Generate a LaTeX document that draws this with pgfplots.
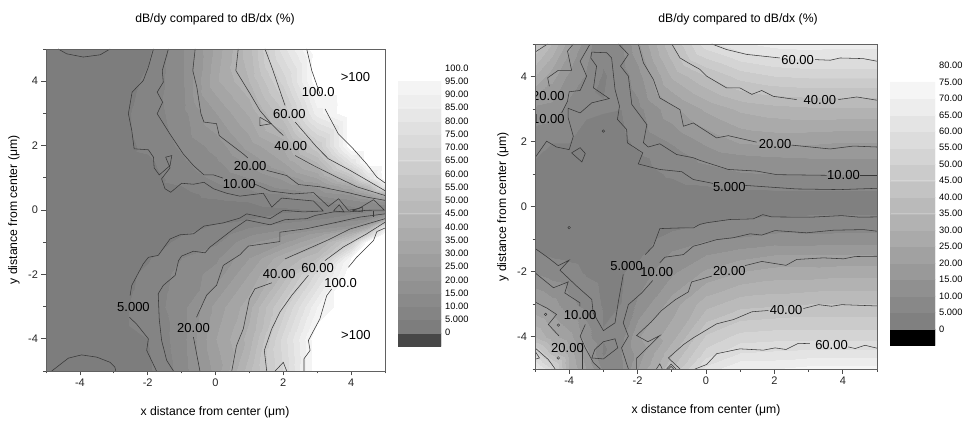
\documentclass[border=0pt]{standalone}
\usepackage{pgfplots}
\pgfplotsset{compat=1.18}
\usepackage{fontspec}
\setmainfont{Liberation Sans}
\pgfplotsset{
 colormap={lb}{gray(0)=(.49);gray(99)=(.49);gray(100)=(.516);gray(199)=(.516);gray(200)=(.542);gray(299)=(.542);gray(300)=(.568);gray(399)=(.568);gray(400)=(.594);gray(499)=(.594);gray(500)=(.62);gray(599)=(.62);gray(600)=(.646);gray(699)=(.646);gray(700)=(.672);gray(799)=(.672);gray(800)=(.698);gray(899)=(.698);gray(900)=(.724);gray(999)=(.724);gray(1000)=(.75);gray(1099)=(.75);gray(1100)=(.776);gray(1199)=(.776);gray(1200)=(.802);gray(1299)=(.802);gray(1300)=(.828);gray(1399)=(.828);gray(1400)=(.854);gray(1499)=(.854);gray(1500)=(.88);gray(1599)=(.88);gray(1600)=(.906);gray(1699)=(.906);gray(1700)=(.932);gray(1799)=(.932);gray(1800)=(.958);gray(1899)=(.958);gray(1900)=(1);gray(2000)=(1)},
 colormap={rb}{gray(0)=(.5);gray(99)=(.5);gray(100)=(.533);gray(199)=(.533);gray(200)=(.566);gray(299)=(.566);gray(300)=(.599);gray(399)=(.599);gray(400)=(.632);gray(499)=(.632);gray(500)=(.665);gray(599)=(.665);gray(600)=(.698);gray(699)=(.698);gray(700)=(.731);gray(799)=(.731);gray(800)=(.764);gray(899)=(.764);gray(900)=(.797);gray(999)=(.797);gray(1000)=(.83);gray(1099)=(.83);gray(1100)=(.863);gray(1199)=(.863);gray(1200)=(.896);gray(1299)=(.896);gray(1300)=(.929);gray(1399)=(.929);gray(1400)=(.962);gray(1499)=(.962);gray(1500)=(1);gray(1600)=(1)},
 panel/.style={scale only axis,anchor=south west,xmin=-5,xmax=5,ymin=-5,ymax=5,enlargelimits=false,
  axis on top,axis line style={black!62,line width=.9pt},
  xtick={-4,-2,0,2,4},xticklabels={-4,-2,0,2,4},ytick={-4,-2,0,2,4},yticklabels={-4,-2,0,2,4},
  minor xtick={-5,-3,-1,1,3,5},minor ytick={-5,-3,-1,1,3,5},
  xtick pos=bottom,ytick pos=left,tick align=outside,
  major tick length=4.5pt,minor tick length=2.5pt,
  tick style={black!70,line width=.7pt},
  tick label style={font=\fontsize{11}{11}\selectfont,text=black!85},
  cycle list={{black}}},
 cl/.style={no markers,line width=.55pt,black!78,forget plot},
 cm/.style={only marks,mark=o,mark size=1.3pt,mark options={line width=.45pt,black!78,fill=none},forget plot},
 bar/.style={scale only axis,anchor=south west,xmin=0,xmax=1,enlargelimits=false,
  hide x axis,axis y line*=right,y axis line style={draw=none},major tick length=0pt,
  yticklabel style={anchor=west,font=\fontsize{9.3}{9.3}\selectfont,inner xsep=0pt,xshift=4pt}},
 bf/.style={line width=.2pt,forget plot}
}
\newcommand{\clab}[3]{\node[font=\fontsize{13}{13}\selectfont,text=black] at (axis cs:#1,#2) {#3};}
\begin{document}
\begin{tikzpicture}[x=1pt,y=1pt]
\path[use as bounding box] (0,0) rectangle (965,420);
% LEFT PANEL
\begin{axis}[panel,at={(46pt,49pt)},width=339pt,height=322pt,colormap name=lb,point meta min=0,point meta max=100]
\addplot[surf,shader=interp,mesh/cols=11,point meta=explicit] coordinates {
(-5,5)[2](-3,5)[2](-2,5)[4](-1,5)[14](0,5)[32](1,5)[48](2,5)[78](3,5)[105](4,5)[115](4.5,5)[115](5,5)[115]
(-5,4)[2](-3,4)[2](-2,4)[6](-1,4)[14](0,4)[34](1,4)[45](2,4)[67](3,4)[108](4,4)[115](4.5,4)[115](5,4)[115]
(-5,3)[2](-3,3)[3](-2,3)[7](-1,3)[13](0,3)[25](1,3)[36](2,3)[54](3,3)[88](4,3)[115](4.5,3)[115](5,3)[115]
(-5,2)[2](-3,2)[3](-2,2)[6](-1,2)[11](0,2)[17](1,2)[27](2,2)[36](3,2)[60](4,2)[100](4.5,2)[115](5,2)[115]
(-5,1.5)[2](-3,1.5)[3](-2,1.5)[4](-1,1.5)[9](0,1.5)[14](1,1.5)[21](2,1.5)[30](3,1.5)[45](4,1.5)[80](4.5,1.5)[105](5,1.5)[115]
(-5,1)[2](-3,1)[2.5](-2,1)[3](-1,1)[7](0,1)[11](1,1)[15](2,1)[21](3,1)[30](4,1)[53](4.5,1)[78](5,1)[115]
(-5,.75)[2](-3,.75)[2.5](-2,.75)[3](-1,.75)[5](0,.75)[9](1,.75)[11](2,.75)[17](3,.75)[21](4,.75)[35](4.5,.75)[50](5,.75)[85]
(-5,.5)[2](-3,.5)[2.5](-2,.5)[3](-1,.5)[3.5](0,.5)[6.5](1,.5)[8](2,.5)[10](3,.5)[16](4,.5)[21](4.5,.5)[30](5,.5)[45]
(-5,.25)[2](-3,.25)[2.5](-2,.25)[3](-1,.25)[3](0,.25)[4](1,.25)[5](2,.25)[7](3,.25)[9](4,.25)[12](4.5,.25)[14](5,.25)[18]
(-5,0)[2](-3,0)[2.5](-2,0)[3](-1,0)[3](0,0)[3](1,0)[3.5](2,0)[4](3,0)[5](4,0)[8](4.5,0)[9](5,0)[9]
(-5,-.25)[2](-3,-.25)[2.5](-2,-.25)[3](-1,-.25)[3](0,-.25)[3.5](1,-.25)[4.5](2,-.25)[7](3,-.25)[9](4,-.25)[12](4.5,-.25)[14](5,-.25)[30]
(-5,-.5)[2](-3,-.5)[2.5](-2,-.5)[3](-1,-.5)[3](0,-.5)[5.5](1,-.5)[9](2,-.5)[12](3,-.5)[15](4,-.5)[21](4.5,-.5)[33](5,-.5)[80]
(-5,-.75)[2](-3,-.75)[2.5](-2,-.75)[3](-1,-.75)[4.8](0,-.75)[7](1,-.75)[14](2,-.75)[19](3,-.75)[27](4,-.75)[42](4.5,-.75)[65](5,-.75)[115]
(-5,-1)[2](-3,-1)[2.5](-2,-1)[3](-1,-1)[6](0,-1)[9](1,-1)[19](2,-1)[24](3,-1)[36](4,-1)[62](4.5,-1)[110](5,-1)[115]
(-5,-1.5)[2](-3,-1.5)[3](-2,-1.5)[4.5](-1,-1.5)[10](0,-1.5)[14](1,-1.5)[25](2,-1.5)[39](3,-1.5)[50](4,-1.5)[95](4.5,-1.5)[115](5,-1.5)[115]
(-5,-2)[2](-3,-2)[3](-2,-2)[6](-1,-2)[12](0,-2)[17](1,-2)[30](2,-2)[46](3,-2)[72](4,-2)[115](4.5,-2)[115](5,-2)[115]
(-5,-3)[2](-3,-3)[3.5](-2,-3)[7](-1,-3)[13](0,-3)[27](1,-3)[38](2,-3)[62](3,-3)[90](4,-3)[115](4.5,-3)[115](5,-3)[115]
(-5,-4)[2](-3,-4)[3.5](-2,-4)[5](-1,-4)[13](0,-4)[30](1,-4)[42](2,-4)[72](3,-4)[110](4,-4)[115](4.5,-4)[115](5,-4)[115]
(-5,-5)[2](-3,-5)[3](-2,-5)[4](-1,-5)[12](0,-5)[27](1,-5)[48](2,-5)[70](3,-5)[115](4,-5)[115](4.5,-5)[115](5,-5)[115]
};
% level 5
\addplot[cl] coordinates {(-1.83,5)(-1.98,4.44)(-2.13,4.02)(-2.46,3.66)(-2.57,2.99)(-2.47,2.47)(-2.40,1.90)(-1.98,1.87)(-1.83,1.64)(-1.81,1.31)(-1.66,1.09)(-1.34,1.38)(-1.29,1.69)(-1.47,1.64)(-1.34,1.31)(-1.59,.97)(-1.49,.66)(-1.32,.55)(-1,.83)(-.65,.80)(-.34,.86)(-.06,.66)(.33,.52)(.72,.43)(1.41,.52)(1.66,.09)(1.95,.37)(2.89,.28)(3.18,-.03)(2.59,-.06)(2,-.01)(1.61,-.27)(.92,-.12)(.72,-.25)(.23,-.40)(-.34,-.50)(-.65,-.74)(-1.05,-.77)(-1.34,-.90)(-1.69,-1.41)(-1.98,-1.47)(-2.13,-1.67)(-2.47,-2.34)(-2.52,-2.66)};
\addplot[cl] coordinates {(-2.54,-3.33)(-2.33,-3.54)(-1.98,-4)(-2.03,-4.36)(-1.74,-5)};
\addplot[cl] coordinates {(-4.83,-5)(-4.34,-4.6)(-3.95,-4.5)(-3.5,-4.57)(-3.11,-4.73)(-2.97,-4.88)(-2.94,-5)};
\addplot[cl] coordinates {(-4.64,5)(-4.39,4.85)(-3.9,4.75)(-3.4,4.82)(-3.11,5)};
% level 10
\addplot[cl] coordinates {(-1.39,5)(-1.57,4.33)(-1.54,3.97)(-1.72,3.66)(-1.56,3.35)(-1.72,2.99)(-1.35,2.37)(-.95,1.74)(-.65,1.38)(-.34,1.09)(-.06,1.09)(.22,.99)};
\addplot[cl] coordinates {(1.17,.8)(1.61,.59)(2.3,.5)(2.89,.54)(3.33,.11)(3.63,.35)(3.92,-.01)(4.22,.04)(4.66,.32)(4.98,0)(4.46,-.01)(3.92,-.06)(3.48,-.06)(2.94,-.17)(2.69,-.27)(2.05,-.3)(1.61,-.46)(.92,-.31)(.53,-.59)(-.16,-1.15)(-.31,-1.33)(-.65,-1.28)(-1,-1.43)(-1.09,-1.57)(-1.19,-2.03)(-1.54,-2.34)(-1.69,-2.6)(-1.66,-3.38)(-1.59,-4.05)(-1.44,-4.67)(-1.24,-5)};
\addplot[cl] coordinates {(3.48,-.03)(3.65,.16)(3.79,-.06)(3.48,-.03)};
\addplot[cl] coordinates {(4.04,-.01)(4.33,.09)(4.33,-.06)(4.04,-.01)};
\addplot[cl,line width=1pt] coordinates {(4.65,-.02)(4.65,-.22)};
% level 20
\addplot[cl] coordinates {(-.6,5)(-.67,4.33)(-.55,3.81)(-.43,2.99)(-.34,2.73)(.03,2.68)(.11,2.31)(.82,1.74)(.95,1.62)};
\addplot[cl] coordinates {(1.51,1.23)(2.1,1.07)(2.45,.79)(3.09,.72)(3.87,.55)(4.46,.4)(5,.3)};
\addplot[cl] coordinates {(-.46,-5)(-.65,-3.95)};
\addplot[cl] coordinates {(-.56,-3.33)(-.26,-2.64)(.03,-2.34)(.23,-1.72)(.72,-1.39)(.97,-1.12)(1.9,-.98)(1.9,-.69)(2.69,-.58)(3.58,-.38)(4.26,-.22)(5,-.12)};
% level 40
\addplot[cl] coordinates {(.67,5)(.6,4.33)(1.02,3.61)(1.31,3.09)(1.64,2.68)(2,2.31)};
\addplot[cl] coordinates {(1.31,2.88)(1.31,2.62)(1.64,2.68)(1.31,2.88)};
\addplot[cl] coordinates {(2.35,1.69)(2.89,1.38)(3.48,1.07)(4.17,.72)(5,.45)};
\addplot[cl] coordinates {(.48,-5)(.62,-4.21)(.82,-3.69)(1,-2.76)(1.16,-2.45)(1.66,-2.26)};
\addplot[cl] coordinates {(2.05,-1.52)(3.28,-.95)(3.97,-.59)(5,-.27)};
% level 60
\addplot[cl] coordinates {(1.46,5)(1.66,4.44)(2.05,3.25)};
\addplot[cl] coordinates {(2.35,2.73)(2.99,1.95)(3.33,1.59)(3.97,1.23)(5,.6)};
\addplot[cl] coordinates {(1.51,-5)(1.44,-4.36)(1.66,-3.69)(1.9,-3.17)(2.25,-2.65)(2.74,-2.03)};
\addplot[cl] coordinates {(3.23,-1.57)(3.77,-1.15)(4.46,-.74)(5,-.38)};
\addplot[cl] coordinates {(1.76,-5)(2,-4.73)(2.1,-5)};
% level 100
\addplot[cl] coordinates {(2.69,5)(2.84,4.33)(3.08,3.61)};
\addplot[cl] coordinates {(3.23,3.14)(3.62,2.37)(4.02,1.95)(4.46,1.43)(4.76,1.02)(5,.84)};
\addplot[cl] coordinates {(2.61,-5)(2.61,-4.62)(2.79,-4.36)(2.74,-4.05)(3.08,-3.38)(3.28,-2.66)(3.43,-2.45)};
\addplot[cl] coordinates {(3.92,-1.78)(4.17,-1.46)(4.66,-.95)(4.76,-.67)(5,-.56)};
\clab{3.03}{3.66}{100.0}\clab{2.18}{2.99}{60.00}\clab{2.22}{1.98}{40.00}\clab{1.02}{1.38}{20.00}\clab{.7}{.81}{10.00}
\clab{4.13}{4.13}{>100}\clab{-2.42}{-3.02}{5.000}\clab{-.65}{-3.67}{20.00}\clab{1.88}{-2.0}{40.00}\clab{3.01}{-1.8}{60.00}\clab{3.69}{-2.26}{100.0}\clab{4.14}{-3.87}{>100}
\end{axis}
% RIGHT PANEL
\begin{axis}[panel,at={(535pt,51pt)},width=342pt,height=325pt,colormap name=rb,point meta min=0,point meta max=80]
\addplot[surf,shader=interp,mesh/cols=14,point meta=explicit] coordinates {
(-5,5)[45](-4.5,5)[35](-4,5)[22](-3.5,5)[12](-3,5)[6.5](-2.5,5)[9](-2,5)[19](-1,5)[40](0,5)[58](1,5)[64](2,5)[67](3,5)[68](4,5)[67](5,5)[67]
(-5,4)[30](-4.5,4)[22](-4,4)[14](-3.5,4)[9.5](-3,4)[4.5](-2.5,4)[7](-2,4)[13](-1,4)[31](0,4)[40](1,4)[47](2,4)[50](3,4)[51](4,4)[51](5,4)[51]
(-5,3)[14](-4.5,3)[13](-4,3)[8](-3.5,3)[5.5](-3,3)[5.2](-2.5,3)[5](-2,3)[8.5](-1,3)[18.5](0,3)[26](1,3)[31](2,3)[33](3,3)[34](4,3)[34](5,3)[34]
(-5,2)[6](-4.5,2)[5](-4,2)[5](-3.5,2)[3.8](-3,2)[3.5](-2.5,2)[3.8](-2,2)[6](-1,2)[10.5](0,2)[16](1,2)[20.5](2,2)[21.5](3,2)[21](4,2)[20](5,2)[20]
(-5,1.5)[5](-4.5,1.5)[4.5](-4,1.5)[4](-3.5,1.5)[4](-3,1.5)[3.5](-2.5,1.5)[3](-2,1.5)[4](-1,1.5)[7](0,1.5)[11.5](1,1.5)[13.5](2,1.5)[14.5](3,1.5)[15](4,1.5)[15](5,1.5)[15]
(-5,1)[3](-4.5,1)[3](-4,1)[3](-3.5,1)[3](-3,1)[3](-2.5,1)[3](-2,1)[3.5](-1,1)[5.5](0,1)[7.5](1,1)[9.5](2,1)[10](3,1)[10](4,1)[10](5,1)[10]
(-5,.5)[3](-4.5,.5)[3](-4,.5)[3](-3.5,.5)[3](-3,.5)[3](-2.5,.5)[3](-2,.5)[3](-1,.5)[3.5](0,.5)[4](1,.5)[4.8](2,.5)[5](3,.5)[5](4,.5)[5](5,.5)[5]
(-5,0)[2.5](-4.5,0)[2.5](-4,0)[2.5](-3.5,0)[2.5](-3,0)[2.5](-2.5,0)[2.5](-2,0)[2.5](-1,0)[2.5](0,0)[2.5](1,0)[3](2,0)[3](3,0)[3](4,0)[3](5,0)[3]
(-5,-.5)[3](-4.5,-.5)[3](-4,-.5)[3](-3.5,-.5)[3](-3,-.5)[3](-2.5,-.5)[3](-2,-.5)[3](-1,-.5)[3](0,-.5)[5](1,-.5)[6](2,-.5)[6.5](3,-.5)[7](4,-.5)[7](5,-.5)[7]
(-5,-1)[4](-4.5,-1)[3.5](-4,-1)[3](-3.5,-1)[3](-3,-1)[3](-2.5,-1)[3](-2,-1)[3](-1,-1)[7](0,-1)[9.5](1,-1)[10.5](2,-1)[12](3,-1)[11.5](4,-1)[12](5,-1)[12]
(-5,-1.5)[5.5](-4.5,-1.5)[4.5](-4,-1.5)[4](-3.5,-1.5)[3.5](-3,-1.5)[3](-2.5,-1.5)[3](-2,-1.5)[4](-1,-1.5)[11](0,-1.5)[15](1,-1.5)[18](2,-1.5)[20](3,-1.5)[20.5](4,-1.5)[20](5,-1.5)[20]
(-5,-2)[9.5](-4.5,-2)[7.5](-4,-2)[6.5](-3.5,-2)[4.5](-3,-2)[3.5](-2.5,-2)[4.5](-2,-2)[7](-1,-2)[14](0,-2)[21](1,-2)[25](2,-2)[27](3,-2)[27](4,-2)[28](5,-2)[28]
(-5,-3)[20.5](-4.5,-3)[17](-4,-3)[11.5](-3.5,-3)[8](-3,-3)[4.5](-2.5,-3)[5](-2,-3)[11](-1,-3)[22.5](0,-3)[33](1,-3)[38](2,-3)[39](3,-3)[40](4,-3)[40](5,-3)[40]
(-5,-4)[35](-4.5,-4)[27](-4,-4)[22](-3.5,-4)[12](-3,-4)[5.2](-2.5,-4)[8](-2,-4)[19.5](-1,-4)[28](0,-4)[46](1,-4)[52](2,-4)[53](3,-4)[53](4,-4)[53](5,-4)[53]
(-5,-4.5)[52](-4.5,-4.5)[38](-4,-4.5)[28](-3.5,-4.5)[17](-3,-4.5)[4.2](-2.5,-4.5)[10](-2,-4.5)[17](-1,-4.5)[34](0,-4.5)[52](1,-4.5)[60](2,-4.5)[61](3,-4.5)[62](4,-4.5)[62](5,-4.5)[62]
(-5,-5)[68](-4.5,-5)[55](-4,-5)[30](-3.5,-5)[20](-3,-5)[9](-2.5,-5)[9](-2,-5)[20](-1,-5)[40](0,-5)[62](1,-5)[70](2,-5)[70](3,-5)[72](4,-5)[72](5,-5)[72]
};
% 60
\addplot[cl] coordinates {(.17,5)(.6,4.83)(1.19,4.68)(2.16,4.57)};
\addplot[cl] coordinates {(3.19,4.52)(3.63,4.5)(3.92,4.57)(4.6,4.55)(5,4.47)};
\addplot[cl] coordinates {(-.32,-5)(.02,-4.86)(.31,-4.53)(.99,-4.38)(1.68,-4.42)(2.02,-4.35)(2.34,-4.4)(2.7,-4.21)(3.04,-4.22)};
\addplot[cl] coordinates {(4.16,-4.32)(4.36,-4.37)(4.65,-4.27)(5,-4.36)};
% 40
\addplot[cl] coordinates {(-1,5)(-.76,4.57)(-.52,4.42)(-.18,4.22)(.02,4.01)(.6,3.65)(.99,3.65)(1.34,3.45)(1.63,3.57)(1.97,3.39)(2.65,3.29)};
\addplot[cl] coordinates {(3.87,3.29)(4.41,3.37)(5,3.27)};
\addplot[cl] coordinates {(-.76,-5)(-1.1,-4.66)(-.66,-4.25)(-.37,-4.04)(.31,-3.61)(.8,-3.48)(1.34,-3.24)(1.82,-3.2)};
\addplot[cl] coordinates {(2.85,-3.14)(3.29,-3.02)(3.67,-3.07)(3.97,-3.02)(5,-3.06)};
\addplot[cl] coordinates {(-1.45,-5)(-1.35,-4.84)(-1.28,-5)};
\addplot[cl] coordinates {(-1.15,-5)(-1.02,-4.85)(-.88,-5)};
\addplot[cl] coordinates {(-1.1,-5)(-1.02,-4.92)(-.94,-5)};
% 20
\addplot[cl] coordinates {(-1.98,5)(-1.83,4.42)(-1.54,3.91)(-1.35,3.34)(-.76,2.98)(-.66,2.47)(-.37,2.57)(.31,2.11)(.65,2.18)(1.48,1.98)};
\addplot[cl] coordinates {(2.5,1.89)(3.63,1.77)(4.31,1.86)(5,1.83)};
\addplot[cl] coordinates {(-2.03,-5)(-2.03,-4.67)(-1.35,-3.97)(-1.7,-4.16)(-2.03,-3.97)(-1.6,-3.55)(-1.3,-3.2)(-.9,-2.87)(-.52,-2.63)(-.42,-2.32)(-.18,-2.25)(.17,-2.14)};
\addplot[cl] coordinates {(1.14,-1.82)(1.63,-1.69)(2.34,-1.81)(2.65,-1.63)(3.43,-1.58)(4.02,-1.61)(4.36,-1.54)(5,-1.53)};
\addplot[cl] coordinates {(-5,-2.94)(-4.66,-3.12)(-4.37,-3.32)(-4.61,-3.63)(-4.3,-3.98)};
\addplot[cl] coordinates {(-3.63,-4.2)(-3.63,-5)};
\addplot[cl] coordinates {(-5,-4.35)(-4.61,-4.71)(-4.41,-5)};
\addplot[cl] coordinates {(-5,-4.45)(-4.87,-4.66)(-5,-4.7)};
\addplot[cl] coordinates {(-3.88,5)(-4.05,4.78)(-3.93,4.19)(-4.32,4.19)(-4.63,3.96)(-4.58,3.7)};
\addplot[cl] coordinates {(-5,4.75)(-4.63,5)};
% 10
\addplot[cl] coordinates {(-2.56,5)(-2.27,4.68)(-2.5,4.32)(-2.27,4.01)(-2.17,3.14)(-1.73,2.52)(-1.83,1.96)(-1.69,1.83)(-1.35,1.93)(-.86,1.6)(-.37,1.5)(-.18,1.42)(.65,1.14)(1.48,1.09)(2.07,.98)(3.53,.96)};
\addplot[cl] coordinates {(4.5,.95)(5,.95)};
\addplot[cl] coordinates {(-3.39,5)(-3.68,4.47)(-3.49,4.01)(-3.68,3.57)(-4,3.53)(-4.05,3.24)(-4.22,2.88)};
\addplot[cl] coordinates {(-5,-2.04)(-4.46,-2.5)(-4.03,-2.32)(-4.13,-2.66)(-3.69,-2.96)(-3.69,-3.07)};
\addplot[cl] coordinates {(-3.53,-3.63)(-3.68,-3.99)(-3.53,-4.35)(-3.29,-4.81)(-3.09,-5)};
\addplot[cl] coordinates {(-2.27,-5)(-2.47,-4.35)(-2.27,-3.99)(-2.42,-3.58)(-2.27,-3.02)(-1.88,-2.66)(-1.56,-2.28)};
\addplot[cl] coordinates {(-1.35,-1.73)(-1.2,-1.56)(-.66,-1.48)(-.37,-1.22)(-.18,-1.17)(.31,-1.02)(.8,-.96)(1.29,-.84)(1.63,-.88)(2.02,-.74)(2.94,-.81)(3.72,-.73)(4.6,-.71)(5,-.76)};
% 5
\addplot[cl] coordinates {(-5,1.5)(-4.66,2.01)(-4.37,1.83)(-4,1.75)(-3.88,2.16)(-4.03,2.73)(-4.03,3.02)(-3.68,2.88)(-3.34,3.19)(-2.83,3.32)(-3.29,3.65)(-3.2,4.32)(-3.37,4.57)(-3.34,4.75)(-2.9,4.73)(-2.76,4.57)(-2.66,3.6)(-2.53,3.09)(-2.59,2.68)(-2.32,2.37)(-2.3,1.96)(-1.85,1.65)(-1.98,1.31)(-1.35,1.14)(-.71,1.07)(-.37,.83)(.21,.71)};
\addplot[cl] coordinates {(1.14,.65)(2.65,.54)(3.92,.52)(5,.56)};
\addplot[cl] coordinates {(-5,-1.29)(-4.61,-1.58)(-4.32,-1.82)(-4,-1.65)(-4.27,-1.96)(-3.78,-2.45)(-3.34,-2.86)(-3.3,-3.27)(-3,-3.82)(-2.66,-3.58)(-2.56,-2.91)(-2.42,-2.09)};
\addplot[cl] coordinates {(-1.78,-1.48)(-1.54,-1.22)(-1.35,-.68)(-.76,-.66)(-.37,-.66)(-.18,-.55)(.02,-.5)(.7,-.4)(1.38,-.38)(1.66,-.25)(1.92,-.32)(3.04,-.33)(3.97,-.28)(4.5,-.33)(5,-.32)};
\addplot[cl] coordinates {(-3.34,-4.66)(-3.25,-4.4)(-3,-4.16)(-2.66,-4.07)(-2.58,-4.35)(-3,-4.69)(-3.34,-4.66)};
\addplot[cl] coordinates {(-3.93,1.65)(-3.68,1.81)(-3.53,1.63)(-3.63,1.37)(-3.93,1.65)};
\addplot[cm] coordinates {(-3,2.32)(-4,-.65)(-4.69,-3.32)(-4.32,-3.65)(-4.32,-4.66)};
\begin{scope}
\clip (axis cs:-5,-5) rectangle (axis cs:5,5);
\clab{-4.61}{3.41}{20.00}\clab{-4.61}{2.7}{10.00}
\end{scope}
\clab{2.68}{4.52}{60.00}\clab{3.33}{3.29}{40.00}\clab{2.02}{1.91}{20.00}\clab{4.02}{.96}{10.00}\clab{.68}{.6}{5.000}
\clab{-3.68}{-3.34}{10.00}\clab{-4.05}{-4.35}{20.00}\clab{-2.32}{-1.82}{5.000}\clab{-1.44}{-2.01}{10.00}\clab{.68}{-2}{20.00}\clab{2.34}{-3.17}{40.00}\clab{3.67}{-4.25}{60.00}
\end{axis}
% LEFT COLOUR BAR
\begin{axis}[bar,at={(398pt,74pt)},width=43pt,height=278pt,ymin=-5,ymax=100,
 ytick={0,5,...,100},yticklabels={0,5.000,10.00,15.00,20.00,25.00,30.00,35.00,40.00,45.00,50.00,55.00,60.00,65.00,70.00,75.00,80.00,85.00,90.00,95.00,100.0}]
\addplot[bf,color=black!72,fill] coordinates {(0,-5)(1,-5)(1,0)(0,0)(0,-5)};
\addplot[bf,color=black!51,fill] coordinates {(0,0)(1,0)(1,5)(0,5)(0,0)};
\addplot[bf,color=black!48.4,fill] coordinates {(0,5)(1,5)(1,10)(0,10)(0,5)};
\addplot[bf,color=black!45.8,fill] coordinates {(0,10)(1,10)(1,15)(0,15)(0,10)};
\addplot[bf,color=black!43.2,fill] coordinates {(0,15)(1,15)(1,20)(0,20)(0,15)};
\addplot[bf,color=black!40.6,fill] coordinates {(0,20)(1,20)(1,25)(0,25)(0,20)};
\addplot[bf,color=black!38,fill] coordinates {(0,25)(1,25)(1,30)(0,30)(0,25)};
\addplot[bf,color=black!35.4,fill] coordinates {(0,30)(1,30)(1,35)(0,35)(0,30)};
\addplot[bf,color=black!32.8,fill] coordinates {(0,35)(1,35)(1,40)(0,40)(0,35)};
\addplot[bf,color=black!30.2,fill] coordinates {(0,40)(1,40)(1,45)(0,45)(0,40)};
\addplot[bf,color=black!27.6,fill] coordinates {(0,45)(1,45)(1,50)(0,50)(0,45)};
\addplot[bf,color=black!25,fill] coordinates {(0,50)(1,50)(1,55)(0,55)(0,50)};
\addplot[bf,color=black!22.4,fill] coordinates {(0,55)(1,55)(1,60)(0,60)(0,55)};
\addplot[bf,color=black!19.8,fill] coordinates {(0,60)(1,60)(1,65)(0,65)(0,60)};
\addplot[bf,color=black!17.2,fill] coordinates {(0,65)(1,65)(1,70)(0,70)(0,65)};
\addplot[bf,color=black!14.6,fill] coordinates {(0,70)(1,70)(1,75)(0,75)(0,70)};
\addplot[bf,color=black!12,fill] coordinates {(0,75)(1,75)(1,80)(0,80)(0,75)};
\addplot[bf,color=black!9.4,fill] coordinates {(0,80)(1,80)(1,85)(0,85)(0,80)};
\addplot[bf,color=black!6.8,fill] coordinates {(0,85)(1,85)(1,90)(0,90)(0,85)};
\addplot[bf,color=black!4.2,fill] coordinates {(0,90)(1,90)(1,95)(0,95)(0,90)};
\end{axis}
% RIGHT COLOUR BAR
\begin{axis}[bar,at={(890pt,74.6pt)},width=45pt,height=280pt,ymin=-5,ymax=80,
 ytick={0,5,...,80},yticklabels={0,5.000,10.00,15.00,20.00,25.00,30.00,35.00,40.00,45.00,50.00,55.00,60.00,65.00,70.00,75.00,80.00}]
\addplot[bf,color=black,fill] coordinates {(0,-5)(1,-5)(1,0)(0,0)(0,-5)};
\addplot[bf,color=black!50,fill] coordinates {(0,0)(1,0)(1,5)(0,5)(0,0)};
\addplot[bf,color=black!46.7,fill] coordinates {(0,5)(1,5)(1,10)(0,10)(0,5)};
\addplot[bf,color=black!43.4,fill] coordinates {(0,10)(1,10)(1,15)(0,15)(0,10)};
\addplot[bf,color=black!40.1,fill] coordinates {(0,15)(1,15)(1,20)(0,20)(0,15)};
\addplot[bf,color=black!36.8,fill] coordinates {(0,20)(1,20)(1,25)(0,25)(0,20)};
\addplot[bf,color=black!33.5,fill] coordinates {(0,25)(1,25)(1,30)(0,30)(0,25)};
\addplot[bf,color=black!30.2,fill] coordinates {(0,30)(1,30)(1,35)(0,35)(0,30)};
\addplot[bf,color=black!26.9,fill] coordinates {(0,35)(1,35)(1,40)(0,40)(0,35)};
\addplot[bf,color=black!23.6,fill] coordinates {(0,40)(1,40)(1,45)(0,45)(0,40)};
\addplot[bf,color=black!20.3,fill] coordinates {(0,45)(1,45)(1,50)(0,50)(0,45)};
\addplot[bf,color=black!17,fill] coordinates {(0,50)(1,50)(1,55)(0,55)(0,50)};
\addplot[bf,color=black!13.7,fill] coordinates {(0,55)(1,55)(1,60)(0,60)(0,55)};
\addplot[bf,color=black!10.4,fill] coordinates {(0,60)(1,60)(1,65)(0,65)(0,60)};
\addplot[bf,color=black!7.1,fill] coordinates {(0,65)(1,65)(1,70)(0,70)(0,65)};
\addplot[bf,color=black!3.8,fill] coordinates {(0,70)(1,70)(1,75)(0,75)(0,70)};
\end{axis}
% titles and axis labels
\node[font=\fontsize{12.2}{12.2}\selectfont] at (215,401) {dB/dy compared to dB/dx (\%)};
\node[font=\fontsize{12.2}{12.2}\selectfont] at (738,401) {dB/dy compared to dB/dx (\%)};
\node[font=\fontsize{12.2}{12.2}\selectfont] at (215,8) {x distance from center (μm)};
\node[font=\fontsize{12.2}{12.2}\selectfont] at (706,10) {x distance from center (μm)};
\node[font=\fontsize{12.2}{12.2}\selectfont,rotate=90] at (14,210) {y distance from center (μm)};
\node[font=\fontsize{12.2}{12.2}\selectfont,rotate=90] at (503,213) {y distance from center (μm)};
\end{tikzpicture}
\end{document}
